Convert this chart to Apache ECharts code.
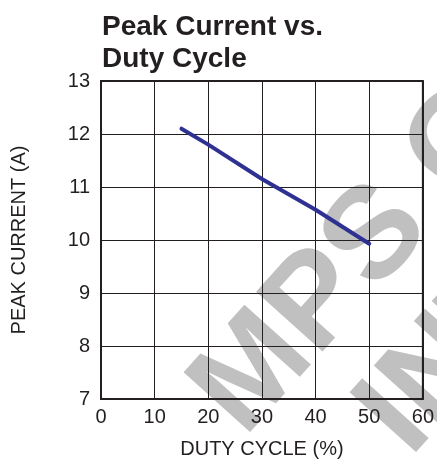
<!DOCTYPE html>
<html><head><meta charset="utf-8">
<script src="https://cdn.jsdelivr.net/npm/echarts@6/dist/echarts.min.js"></script>
<style>html,body{margin:0;padding:0;background:#fff}#c{width:437px;height:464px}</style>
</head><body><div id="c"></div>
<script>
const titleText = "Peak Current vs.\nDuty Cycle";
const xName = "DUTY CYCLE (%)";
const yName = "PEAK CURRENT (A)";
const dutyCycle = [15, 20, 30, 40, 50];
const peakCurrent = [12.1, 11.8, 11.15, 10.57, 9.93];
const xMin = 0, xMax = 60, xStep = 10;
const yMin = 7, yMax = 13, yStep = 1;
const watermark1 = "MPS CONFIDENTIAL";
const watermark2 = "INTERNAL USE ONLY";

const FF = "'Liberation Sans', Arial, sans-serif";
const chart = echarts.init(document.getElementById('c'), null, {renderer: 'canvas'});
const txt = '#231f20';
const wmRot = Math.PI * 48 / 180;
chart.setOption({
  backgroundColor: '#fff',
  animation: false,
  title: {
    text: titleText, left: 97, top: 6,
    textStyle: {fontFamily: FF, fontWeight: 'bold', fontSize: 28, lineHeight: 32, color: txt}
  },
  graphic: [
    {type: 'text', z: -10, zlevel: 0, x: 266, y: 458, rotation: wmRot, silent: true,
     style: {text: watermark1, fontFamily: FF, fontWeight: 'bold', fontSize: 130, fill: '#c0c0c0', textVerticalAlign: 'bottom'}},
    {type: 'text', z: -10, zlevel: 0, x: 432, y: 478, rotation: wmRot, silent: true,
     style: {text: watermark2, fontFamily: FF, fontWeight: 'bold', fontSize: 130, fill: '#c0c0c0', textVerticalAlign: 'bottom'}}
  ],
  grid: {left: 101, right: 12, top: 81, bottom: 59, containLabel: false, show: true, borderColor: '#231f20', borderWidth: 2, z: 5},
  xAxis: {
    type: 'value', min: xMin, max: xMax, interval: xStep, z: 5,
    name: xName, nameLocation: 'middle', nameGap: 40,
    nameTextStyle: {fontFamily: FF, fontSize: 20, color: txt},
    axisLine: {show: false}, axisTick: {show: false},
    axisLabel: {fontFamily: FF, fontSize: 20, color: txt, margin: 8},
    splitLine: {show: true, lineStyle: {color: '#231f20', width: 1}}
  },
  yAxis: {
    type: 'value', min: yMin, max: yMax, interval: yStep, z: 5,
    name: yName, nameLocation: 'middle', nameGap: 72,
    nameTextStyle: {fontFamily: FF, fontSize: 20, color: txt},
    axisLine: {show: false}, axisTick: {show: false},
    axisLabel: {fontFamily: FF, fontSize: 20, color: txt, margin: 11},
    splitLine: {show: true, lineStyle: {color: '#231f20', width: 1}}
  },
  series: [{
    type: 'line', data: dutyCycle.map((x, i) => [x, peakCurrent[i]]),
    showSymbol: false, smooth: false, z: 10,
    lineStyle: {color: '#2e3192', width: 4, cap: 'round'}
  }]
});
</script></body></html>
